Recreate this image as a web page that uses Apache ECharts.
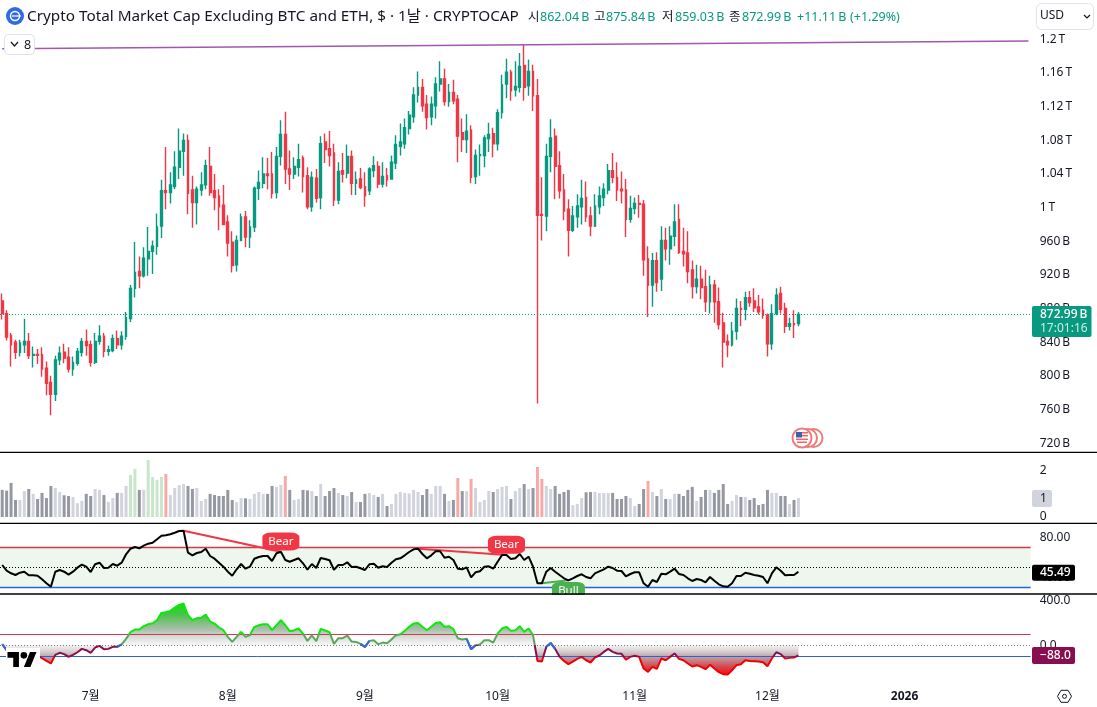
<!DOCTYPE html>
<html><head><meta charset="utf-8">
<style>html,body{margin:0;padding:0;background:#fff;overflow:hidden}#c{width:1097px;height:707px}</style>
<script src="https://cdn.jsdelivr.net/npm/echarts@6/dist/echarts.min.js"></script>
</head><body><div id="c"></div>
<script>
const openValues=[889,874,848,840,828,837,841,824.5,825.3,825,
809,792,778,819,828,822,808,815,828,841,
837,816,841,847,829,830,844,837,847,868,
904,924,919,939,948,954,978,1020,1018,1025,
1048,1067,1080,1021,1006,1021,1027,1049,1020,1014,
1003,983,959,932,961,989,965,977,1023,1029,
1040,1040,1018,1061,1087,1046,1040,1048,1059,1038,
1001,1035,1012,1078,1070,1065,1009,1044,1041,1061,
1029,1034,1025,1020,1044,1049,1028,1038,1034,1053,
1073,1076,1094,1108,1134,1143,1123,1108,1121,1147,
1153,1126,1137,1129,1089,1081,1092,1037,1062,1062,
1082,1088,1076,1113,1147,1161,1140,1143,1169,1145,
1162,1133,992,990,1061,1085,1050,1021,998,973,
989,1001,1012,990,978,1001,1012,1021,1044,1036,
1022,1021,986,999,1005,1004,939,908,937,915,
961,951,966,986,948,946,926,906,915,906,
888,908,888,863,841,837,853,880,879,893,
889,882,878,872,838,874,898,880,859,862,862.04];
const closeValues=[874,846,837,828,839,841,824,825.3,824.5,808,
791,778,819,827,821,808,816,829,841,836,
816,841,847,829,831,844,837,847,869,904,
923,919,940,948,954,977,1020,1018,1027,1048,
1067,1080,1017,1006,1022,1027,1050,1018,1012,1001,
980,958,931,961,989,965,977,1023,1030,1040,
1038,1017,1061,1087,1046,1040,1049,1057,1037,1001,
1036,1011,1076,1069,1062,1009,1043,1040,1061,1029,
1033,1024,1014,1046,1050,1028,1037,1033,1054,1075,
1078,1095,1110,1134,1143,1121,1107,1123,1147,1153,
1126,1137,1127,1085,1081,1091,1036,1062,1063,1083,
1087,1076,1113,1146,1161,1139,1144,1168,1143,1162,
1133,991,991,1061,1083,1049,1020,996,973,990,
1002,1011,989,978,1002,1014,1022,1044,1036,1021,
1020,986,999,1005,1004,938,908,937,911,961,
951,966,983,947,945,924,906,915,905,888,
908,888,861,840,837,853,880,879,893,887,
881,876,872,838,874,896,879,859,862,861,872.99];
const lowValues=[867,842,811,820,823,827,820,810,814,799,
777,753,770,813,815,804,800,812,823,824,
811,814,837,822,824,828,832,831,843,864,
893,904,917,919,921,944,964,998,1005,1022,
1034,1038,992,976,980,1014,1022,1014,997,973,
979,942,923,924,960,953,952,971,1009,1023,
1022,1011,1011,1050,1028,1021,1034,1037,1018,998,
995,1006,998,1053,1049,1002,1004,1030,1035,1015,
1015,1022,1001,1015,1036,1023,1024,1025,1033,1046,
1062,1070,1087,1101,1125,1114,1093,1098,1106,1138,
1121,1120,1123,1054,1066,1065,1029,1028,1038,1048,
1066,1060,1068,1106,1130,1127,1132,1137,1127,1133,
1115,767,961,972,1042,1010,1011,985,942,971,
976,980,983,966,977,992,1002,1016,1029,1008,
1005,965,982,992,988,919,870,882,900,901,
937,932,954,945,930,910,892,898,891,876,
874,863,855,810,822,835,843,859,866,882,
876,873,868,823,831,872,874,851,854,845,859.03];
const highValues=[898,878,851,843,843,868,851,835,832,834,
817,800,824,835,838,834,823,833,845,855,
842,851,860,851,836,849,854,853,876,908,
959,942,953,977,961,993,1033,1072,1042,1067,
1094,1088,1087,1038,1025,1042,1057,1072,1040,1022,
1027,991,972,967,993,996,985,1025,1044,1060,
1059,1066,1072,1104,1114,1068,1060,1076,1062,1048,
1043,1046,1085,1088,1091,1076,1054,1065,1075,1068,
1043,1047,1042,1048,1061,1055,1054,1047,1062,1086,
1100,1106,1115,1143,1162,1153,1134,1132,1155,1174,
1165,1147,1152,1134,1106,1111,1098,1069,1075,1086,
1101,1095,1117,1158,1177,1164,1174,1184,1194,1176,
1170,1153,1036,1076,1105,1094,1067,1040,1010,1002,
1016,1033,1031,1001,1016,1025,1029,1052,1065,1054,
1043,1034,1014,1012,1015,1009,954,946,947,978,
976,978,1004,1004,976,972,937,932,931,926,
919,914,905,875,849,864,892,889,900,901,
904,896,892,874,885,904,906,887,869,878,875.84];
const volumeValues=[1.16,1.13,1.46,.73,.73,1.11,1.2,.99,.77,1.03,
.81,1.33,1.24,1.07,.93,.9,.86,.59,.69,.99,
.9,1.2,1.16,.94,.64,.81,1.03,1.03,1.33,1.8,
2.06,1.16,1.16,2.44,1.71,1.59,1.71,1.84,.94,1.24,
1.37,1.41,1.33,1.2,1.24,.69,.77,.99,.94,.9,
.9,1.16,.73,.64,.81,.8,.77,.99,1.07,.99,
.99,1.33,1.29,1.37,1.76,1.16,.73,.77,1.16,1.14,
1.11,.9,1.41,.9,1.11,1.24,1.03,.94,.9,1.07,
.64,.64,.99,1.03,.94,.86,.99,.47,.56,.99,
1.07,1.03,1.01,1.16,1.07,.94,1.2,.99,1.33,1.33,
.99,.69,.73,1.67,1.11,1.11,1.63,1.24,.64,.73,
1.11,1.07,1.2,1.29,1.33,.77,1.11,1.24,1.41,1.2,
1.24,2.14,1.63,1.33,1.2,1.33,.99,1.07,1.16,.51,
.56,.81,1.06,1.07,1.07,1.03,1.03,1.03,1.03,.77,
.77,.9,.81,.47,.56,1.2,1.54,1.07,.9,1.2,
.77,.77,.99,.99,.9,1.16,1.29,.69,.86,1.16,
1.16,1.03,1.16,1.41,.56,.69,.94,.86,.86,.73,
.81,.51,.56,1.16,1.03,1.03,.9,.9,.56,.73,.81];
const rsiValues=[52.3,46.6,44,42.3,44.6,45.6,42,42,41.6,38,34,30.6,45.6,47.3,45.6,42.6,45.6,49.6,52.6,50.6,
45.3,53,54.6,49.3,49.6,53.3,51.6,54.6,63,68.6,70.3,69,71.6,73.6,74.6,78,81.6,82,83,84.6,
86.3,86.6,64.6,62,64.3,65.3,68.6,61.3,58.6,54.6,50.6,45.6,41.6,48,53.3,48.6,50.6,58.6,60.3,61.3,
61.3,56.3,64,65.6,57.3,55.6,57.3,59,54,47.6,53.3,49.3,59.3,58.3,57,47.6,52.3,52.3,55,50.3,
50.6,49,47.3,53,53.6,49.6,51,50.3,54.6,58,59,62,65.3,68,68.6,63.3,59,62,66,66,
59.6,60.6,57.3,48.6,48,50,40,45,46,50.6,51,48.6,55.6,62.3,62.3,58.3,59,63.3,57.3,60.6,
50.6,34,34,45.6,49.3,45.6,42.3,39,37,39,41.3,43,40.3,39,44,46,48,50.6,49.3,46.6,
46.3,41,43.3,45,45,34,30.6,37.3,35.3,43.6,43,45.6,48.6,43.3,42.3,39,36.3,38.3,37.3,35,
40.3,36.6,33,31,30.6,34,41.3,41.3,44.6,43.6,42.3,41.6,40.3,34,44,50,46.6,42,42.3,42.3,45.49];
const cciValues=[12,-42,-48,-60,-54,-54,-77,-77,-95,-113,-137,-160,-83,-65,-77,-101,-83,-60,-30,-42,
-65,-18,-3,-33,-30,-12,-12,9,59,118,142,142,172,189,198,225,290,296,308,337,
361,373,269,225,243,246,275,213,195,160,136,77,32,77,121,77,92,166,180,189,
189,136,180,225,180,127,136,151,106,41,89,38,148,133,118,14,65,65,89,35,
32,14,-12,41,47,12,26,20,53,92,100,130,166,195,201,166,136,166,201,207,
166,172,145,65,53,59,-33,3,9,47,47,26,106,151,166,130,136,172,121,151,
92,-137,-143,-12,23,-30,-101,-137,-166,-143,-119,-101,-131,-151,-107,-89,-57,-30,-57,-71,
-74,-125,-101,-92,-101,-205,-234,-190,-208,-116,-131,-101,-71,-119,-131,-160,-187,-175,-190,-211,
-172,-205,-237,-255,-258,-220,-175,-166,-131,-137,-140,-143,-149,-184,-116,-60,-77,-116,-110,-107,-88];
const cciBlueRanges=[[0,1],[26,27],[81,83],[105,107],[123,125]];
const priceTicks=[1200,1160,1120,1080,1040,1000,960,920,880,840,800,760,720];
const volumeTicks=[2,0];
const rsiTicks=[80,40];
const cciTicks=[400,0];
const monthLabels={20:'7월',51:'8월',82:'9월',112:'10월',143:'11월',173:'12월',204:'2026'};
const barSlots=233;
const trendLine=[[0,1189],[232,1198]];

const UP='#089981',DOWN='#F23645',TXT='#131722';
const FONT="'Noto Sans','Noto Sans CJK KR',sans-serif";
const cats=Array.from({length:barSlots},(_,i)=>String(i));
const candle=openValues.map((o,i)=>[o,closeValues[i],lowValues[i],highValues[i]]);
const volData=volumeValues.map((v,i)=>{
  const up=closeValues[i]>=openValues[i], hi=v>=1.52;
  return {value:v,itemStyle:{color:hi?(up?'#C8E6C9':'#F7A9A7'):(up?'#D1D4DC':'#9598A1')}};
});
const gridLeft=-1.55, gridW=1032.2;
const grids=[{top:0,height:452},{top:453,height:70},{top:524,height:70},{top:595,height:86}]
  .map(g=>({left:gridLeft,width:gridW,top:g.top,height:g.height,containLabel:false}));
const xAxes=grids.map((g,i)=>({type:'category',gridIndex:i,data:cats,boundaryGap:true,
  axisLine:{show:false},axisTick:{show:false},splitLine:{show:false},
  axisLabel:i<3?{show:false}:{show:true,margin:10,fontSize:12,color:TXT,fontFamily:FONT,hideOverlap:false,
    interval:idx=>monthLabels[idx]!==undefined,
    formatter:v=>{const t=monthLabels[v];return t==='2026'?'{y|2026}':(t||'');},
    rich:{y:{fontWeight:'bold',fontSize:12,color:TXT,fontFamily:FONT}}}}));
function yAx(i,min,max,ticks,fmt){return {type:'value',gridIndex:i,position:'right',min,max,scale:true,
  axisLine:{show:false},axisTick:{show:false},splitLine:{show:false},
  axisLabel:{show:true,customValues:ticks,margin:9,fontSize:12,color:TXT,fontFamily:FONT,align:'left',padding:[2,0,0,0],formatter:fmt,showMinLabel:true,showMaxLabel:true}};}
const priceFmt=v=>v>=1000?(v/1000)+'\u2009T':v+'\u2009B';
const yAxes=[
  yAx(0,709.4,1246.9,priceTicks,priceFmt),
  yAx(1,-0.257,2.74,volumeTicks,v=>String(v)),
  yAx(2,23.3,93.3,rsiTicks,v=>v.toFixed(2)),
  yAx(3,-315.6,448.9,cciTicks,v=>v.toFixed(1))
];
const pill=(x,y,name,color,w,h)=>({coord:[x,y],name,symbol:'roundRect',symbolSize:[w,h],
  itemStyle:{color},label:{show:true,formatter:name,color:'#fff',fontSize:11.5,fontFamily:FONT,position:'inside'}});
const hline=(y,color,type,width=1)=>({yAxis:y,lineStyle:{color,width,type}});
const series=[
 {type:'candlestick',xAxisIndex:0,yAxisIndex:0,data:candle,barWidth:2.3,clip:true,
  itemStyle:{color:UP,color0:DOWN,borderColor:UP,borderColor0:DOWN,borderWidth:1.4},
  markLine:{silent:true,symbol:'none',label:{show:false},animation:false,
    data:[hline(closeValues[closeValues.length-1],UP,[1,2])]}},
 {type:'line',xAxisIndex:0,yAxisIndex:0,data:trendLine,symbol:'none',silent:true,
  lineStyle:{color:'#A356AF',width:1.5}},
 {type:'bar',xAxisIndex:1,yAxisIndex:1,data:volData,barWidth:3},
 {type:'line',xAxisIndex:2,yAxisIndex:2,data:rsiValues,symbol:'none',z:5,
  lineStyle:{color:'#000',width:2},
  markArea:{silent:true,z:1,itemStyle:{color:'rgba(76,175,80,0.1)'},data:[[{yAxis:30},{yAxis:70}]]},
  markLine:{silent:true,z:4,symbol:'none',label:{show:false},
    data:[hline(70,'#D03A4C','solid',1.4),hline(50,'#000',[1,2]),hline(30,'#2962DC','solid',1.4),
      [{coord:[41,86.6],lineStyle:{color:DOWN,width:2,type:'solid'}},{coord:[63,65.6]}],
      [{coord:[94,68.6],lineStyle:{color:DOWN,width:2,type:'solid'}},{coord:[114,62.3]}],
      [{coord:[122,34],lineStyle:{color:'#4CAF50',width:2,type:'solid'}},{coord:[128,37]}]]},
  markPoint:{silent:true,z:8,data:[pill(63,75.8,'Bear',DOWN,37,18),pill(114,72.6,'Bear',DOWN,37,18),pill(128,26.3,'Bull','#4CAF50',33,18)]}},
 {type:'line',xAxisIndex:3,yAxisIndex:3,data:cciValues.map(v=>Math.max(v,0)),symbol:'none',silent:true,z:2,
  lineStyle:{width:0},
  areaStyle:{origin:0,opacity:1,color:{type:'linear',x:0,y:645,x2:0,y2:602,global:true,
    colorStops:[{offset:0,color:'rgba(215,215,215,0.25)'},{offset:.35,color:'#AEBFAE'},{offset:.7,color:'#4CC24C'},{offset:1,color:'#00E600'}]}}},
 {type:'line',xAxisIndex:3,yAxisIndex:3,data:cciValues.map(v=>Math.min(v,0)),symbol:'none',silent:true,z:2,
  lineStyle:{width:0},
  areaStyle:{origin:0,opacity:1,color:{type:'linear',x:0,y:645,x2:0,y2:676,global:true,
    colorStops:[{offset:0,color:'rgba(215,215,215,0.35)'},{offset:.35,color:'#BFA9AC'},{offset:.7,color:'#D2484F'},{offset:1,color:'#FF0000'}]}}},
 {type:'line',xAxisIndex:3,yAxisIndex:3,data:cciValues,symbol:'none',z:5,
  lineStyle:{width:2},
  markLine:{silent:true,symbol:'none',label:{show:false},
    data:[hline(100,'#D03A4C','solid'),hline(0,'#787B86',[1,2]),hline(-100,'#2962DC','solid')]}},
 {type:'line',xAxisIndex:3,yAxisIndex:3,symbol:'none',z:6,silent:true,connectNulls:false,
  data:cciValues.map((v,i)=>cciBlueRanges.some(r=>i>=r[0]&&i<=r[1])?v:null),
  lineStyle:{width:2,color:'#2F6BDD'}}
];
const visualMap=[{show:false,type:'piecewise',seriesIndex:series.length-2,dimension:1,
  pieces:[{gt:100,color:'#0CE80C'},{gt:0,lte:100,color:'#57A75A'},{gt:-100,lte:0,color:'#880E4F'},{lte:-100,color:'#F00000'}]}];

const Z=100;
const txt=(x,y,t,o={})=>({type:'text',z:Z,x,y,style:{text:t,font:(o.w||'normal')+' '+(o.s||12)+'px '+FONT,fill:o.c||TXT,textAlign:o.a||'left',textVerticalAlign:'middle'}});
const box=(x,y,w,h,fill,r=2,stroke)=>({type:'rect',z:Z-1,shape:{x,y,width:w,height:h,r},style:{fill,stroke:stroke||null,lineWidth:1}});
const sep=y=>({type:'line',z:Z,shape:{x1:0,y1:y,x2:1097,y2:y},style:{stroke:'#000',lineWidth:1.3}});
const ring=(x,y,r)=>({type:'circle',z:Z-2,shape:{cx:x,cy:y,r},style:{fill:'#fff',stroke:'#EE7B7B',lineWidth:2}});
const rects=[[796,432,6,5.5,'#3F5FA8'],[802,432,6,1.5,'#E66'],[802,435,6,1.5,'#E66'],[796,438.5,12,1.5,'#E66'],[797,441.5,10,1.5,'#E66']];
const tvMap=(p)=>[7.5+p[0]*0.817,652+(p[1]-4)*0.833];
const graphic=[
 box(550,595,40,7,'#fff',0),
 sep(452.3),sep(523.3),sep(594),
 {type:'circle',z:Z,shape:{cx:15,cy:16,r:9},style:{fill:'#2F6BE8'}},
 {type:'circle',z:Z+1,shape:{cx:15,cy:16,r:4.5},style:{fill:'none',stroke:'#fff',lineWidth:1.5}},
 {type:'line',z:Z+1,shape:{x1:12,y1:16,x2:21,y2:16},style:{stroke:'#fff',lineWidth:1.2}},
 txt(27,17,'Crypto Total Market Cap Excluding BTC and ETH, $ · 1날 · CRYPTOCAP',{s:15.3}),
 txt(528,17,'시',{s:12.5}),txt(540,17,'862.04\u2009B',{s:12.5,c:UP}),
 txt(594,17,'고',{s:12.5}),txt(606,17,'875.84\u2009B',{s:12.5,c:UP}),
 txt(662,17,'저',{s:12.5}),txt(675,17,'859.03\u2009B',{s:12.5,c:UP}),
 txt(729,17,'종',{s:12.5}),txt(742,17,'872.99\u2009B',{s:12.5,c:UP}),
 txt(797,17,'+11.11\u2009B',{s:12.5,c:UP}),txt(850,17,'(+1.29%)',{s:12.5,c:UP}),
 box(1036.5,3.5,57,26,'#fff',5,'#E0E3EB'),
 txt(1040,16,'USD',{s:12}),
 {type:'polyline',z:Z,shape:{points:[[1084,15],[1087,18],[1090,15]]},style:{fill:'none',stroke:TXT,lineWidth:1.2}},
 box(4.5,34.5,30,20,'#fff',4,'#E0E3EB'),
 {type:'polyline',z:Z,shape:{points:[[11,42],[14.5,46],[18,42]]},style:{fill:'none',stroke:TXT,lineWidth:1.2}},
 txt(24,45,'8',{s:12.5}),
 box(6,648,34,21,'#fff',0),
 {type:'polygon',z:Z,shape:{points:[[0,4],[14,4],[14,22],[7,22],[7,11],[0,11]].map(tvMap)},style:{fill:'#000'}},
 {type:'polygon',z:Z,shape:{points:[[20,22],[27.5,4],[35.5,4],[28,22]].map(tvMap)},style:{fill:'#000'}},
 {type:'circle',z:Z,shape:{cx:7.5+20*0.817,cy:652+4*0.833,r:3.3},style:{fill:'#000'}},
 ring(813.5,438,9),ring(808,438,9),ring(802,438,9.5),
 ...rects.map(r=>({type:'rect',z:Z,shape:{x:r[0],y:r[1],width:r[2],height:r[3]},style:{fill:r[4]}})),
 box(1032,306,59.5,31,UP,2),
 txt(1040,314.5,'872.99\u2009B',{c:'#fff',w:'500'}),
 txt(1040,329,'17:01:16',{c:'#CFEDE6'}),
 box(1032,490,20,17,'#D1D4DC',2),
 txt(1040,498.5,'1'),
 box(1032,564.7,43,16,'#000',2),
 txt(1040,572.7,'45.49',{c:'#fff',w:'500'}),
 box(1032,647,43,17,'#880E4F',2),
 txt(1040,655.5,'−88.0',{c:'#fff',w:'500'}),
 {type:'polygon',z:Z,shape:{points:[[1057.5,696.3],[1061,690.3],[1068,690.3],[1071.5,696.3],[1068,702.3],[1061,702.3]]},style:{fill:'none',stroke:TXT,lineWidth:1}},
 {type:'circle',z:Z,shape:{cx:1064.5,cy:696.3,r:2},style:{fill:'none',stroke:TXT,lineWidth:1}}
];
const chart=echarts.init(document.getElementById('c'),null,{renderer:'canvas',width:1097,height:707});
chart.setOption({animation:false,backgroundColor:'#fff',textStyle:{fontFamily:FONT},
  grid:grids,xAxis:xAxes,yAxis:yAxes,series,visualMap,graphic});
</script></body></html>
